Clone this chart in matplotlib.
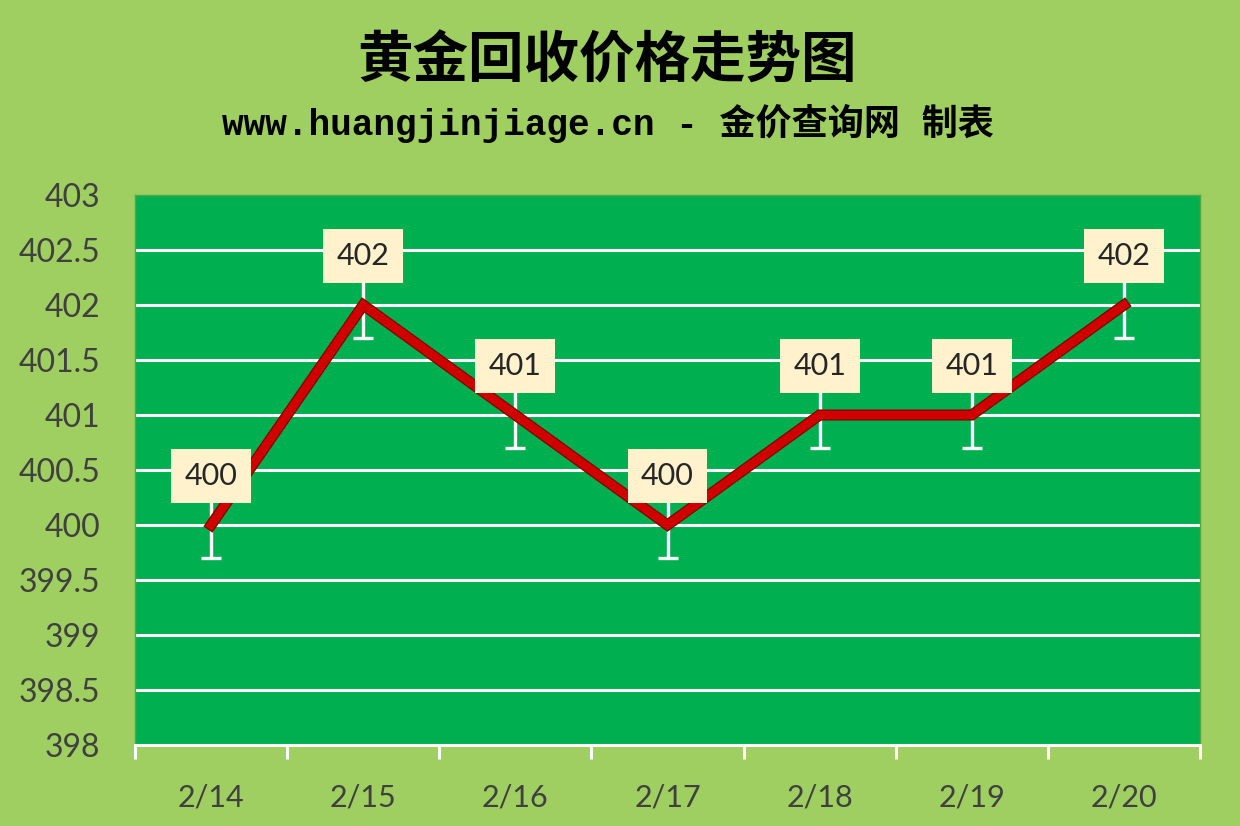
import matplotlib
matplotlib.use("Agg")
import matplotlib.pyplot as plt
import matplotlib.patheffects as pe
import numpy as np

# gold recycle price, 2/14 - 2/20
dates = ["2/14", "2/15", "2/16", "2/17", "2/18", "2/19", "2/20"]
prices = [400, 402, 401, 400, 401, 401, 402]
err = [0.3, 0.3, 0.3, 0.3, 0.3, 0.3, 0.3]
y_ticks = [398, 398.5, 399, 399.5, 400, 400.5, 401, 401.5, 402, 402.5, 403]

title = "黄金回收价格走势图"
subtitle = "www.huangjinjiage.cn - 金价查询网 制表"

OUTER = "#9FCF60"
INNER = "#00B050"
TXT = "#404040"

fig = plt.figure(figsize=(12.4, 8.26), dpi=100, facecolor=OUTER)
ax = fig.add_axes([135 / 1240, 81 / 826, 1065 / 1240, 550 / 826])
ax.set_facecolor(INNER)

x = np.arange(len(dates))

# white grid lines
for v in y_ticks[1:-1]:
    ax.axhline(v, color="white", lw=2.2, zorder=1)

ax.errorbar(x, prices, yerr=err, fmt="none", ecolor="white", elinewidth=2.4,
            capsize=7, capthick=2.4, zorder=2)

ax.plot(x, prices, color="#D00000", lw=6, solid_joinstyle="miter", zorder=3,
        path_effects=[pe.Stroke(linewidth=8, foreground="#8A0000"), pe.Normal()])

for xi, p in zip(x, prices):
    ax.annotate(str(p), (xi, p), xytext=(0, 49), textcoords="offset pixels",
                ha="center", va="center", fontsize=22, family="Lato",
                color="#262626", zorder=5,
                bbox=dict(boxstyle="square,pad=0.44", fc="#FFF2CC", ec="none"))

ax.set_xlim(-0.5, len(dates) - 0.5)
ax.set_ylim(398, 403)
ax.set_yticks(y_ticks)
ax.set_yticklabels([f"{v:g}" for v in y_ticks])
ax.set_xticks(x)
ax.set_xticklabels(dates)
ax.set_xticks(np.arange(-0.5, len(dates)), minor=True)

ax.tick_params(axis="y", length=0, pad=25, labelsize=23, labelcolor=TXT)
ax.tick_params(axis="x", which="major", length=0, pad=28, labelsize=22, labelcolor=TXT)
ax.tick_params(axis="x", which="minor", length=10, width=2.2, color="white",
               direction="out")
for lbl in ax.get_xticklabels() + ax.get_yticklabels():
    lbl.set_family("Lato")

for s in ["top", "right", "left"]:
    ax.spines[s].set_color("#4FA84A")
    ax.spines[s].set_linewidth(1)
ax.spines["bottom"].set_color("white")
ax.spines["bottom"].set_linewidth(2.2)

fig.text(0.49, 0.925, title, ha="center", va="center", fontsize=40,
         weight="bold", family=["Noto Sans CJK SC", "DejaVu Sans"], color="black")
fig.text(0.49, 0.851, subtitle, ha="center", va="center", fontsize=26,
         weight="bold", family=["Liberation Mono", "Noto Sans CJK SC"], color="black")

fig.savefig("out.png", dpi=100, facecolor=OUTER)
